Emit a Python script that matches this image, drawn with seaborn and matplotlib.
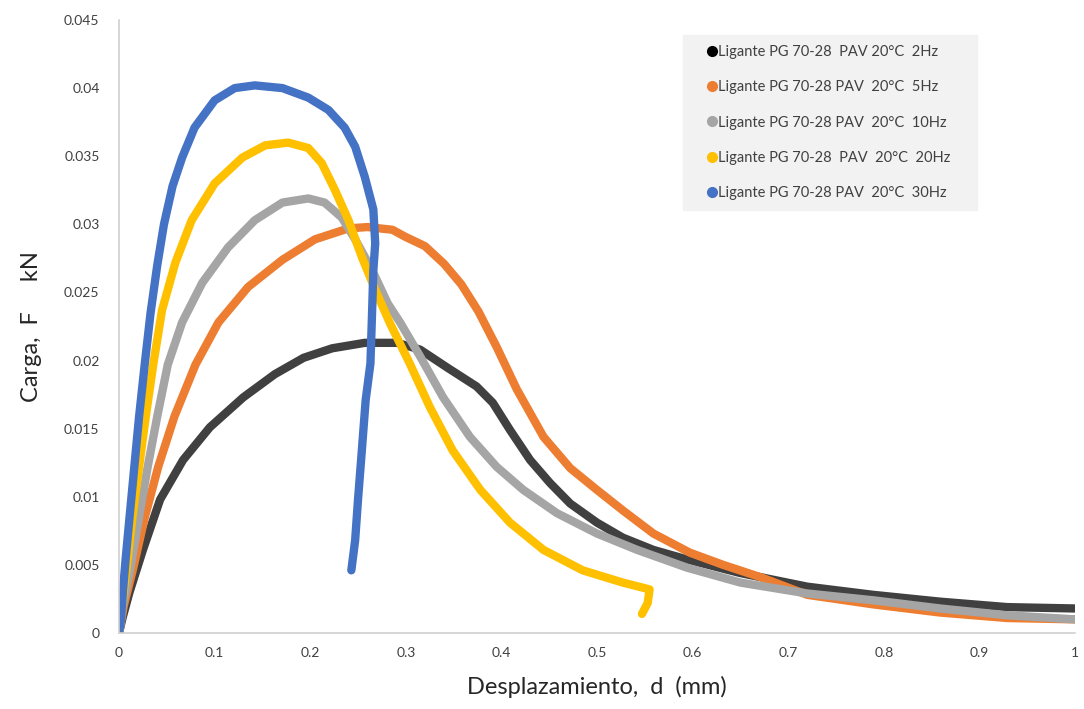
import matplotlib
matplotlib.use("Agg")
import matplotlib.pyplot as plt
from matplotlib.lines import Line2D
import seaborn as sns
import pandas as pd

# ---- data ----
x_2hz = [0, 0.004, 0.011, 0.025, 0.043, 0.067, 0.095, 0.130, 0.163, 0.193, 0.223, 0.257, 0.291,
         0.315, 0.343, 0.374, 0.391, 0.409, 0.430, 0.451, 0.472, 0.500, 0.527, 0.559, 0.594,
         0.650, 0.720, 0.789, 0.859, 0.929, 1.0]
y_2hz = [0, 0.0012, 0.0030, 0.0061, 0.0098, 0.0127, 0.0151, 0.0173, 0.0190, 0.0202, 0.0209, 0.0213,
         0.0213, 0.0208, 0.0195, 0.0181, 0.0169, 0.0149, 0.0127, 0.0110, 0.0095, 0.0081, 0.0070,
         0.0061, 0.0054, 0.0044, 0.0034, 0.0028, 0.0023, 0.0019, 0.0018]

x_5hz = [0, 0.005, 0.015, 0.027, 0.041, 0.058, 0.080, 0.104, 0.135, 0.171, 0.205, 0.240, 0.260,
         0.286, 0.299, 0.320, 0.340, 0.358, 0.376, 0.395, 0.416, 0.444, 0.472, 0.500, 0.527,
         0.559, 0.597, 0.632, 0.671, 0.720, 0.789, 0.859, 0.929, 1.0]
y_5hz = [0, 0.0020, 0.0048, 0.0085, 0.0122, 0.0159, 0.0197, 0.0228, 0.0254, 0.0274, 0.0289, 0.0297,
         0.0298, 0.0296, 0.0291, 0.0284, 0.0271, 0.0256, 0.0236, 0.0210, 0.0179, 0.0144, 0.0121,
         0.0105, 0.0090, 0.0073, 0.0059, 0.0050, 0.0041, 0.0028, 0.0021, 0.0015, 0.0011, 0.0010]

x_10hz = [0, 0.004, 0.012, 0.021, 0.030, 0.040, 0.051, 0.066, 0.087, 0.114, 0.142, 0.171, 0.198,
          0.215, 0.233, 0.247, 0.265, 0.281, 0.294, 0.315, 0.339, 0.367, 0.395, 0.423, 0.458,
          0.500, 0.542, 0.594, 0.650, 0.720, 0.789, 0.859, 0.929, 1.0]
y_10hz = [0, 0.0020, 0.0048, 0.0085, 0.0122, 0.0159, 0.0197, 0.0228, 0.0257, 0.0283, 0.0303, 0.0316,
          0.0319, 0.0316, 0.0305, 0.0289, 0.0266, 0.0242, 0.0228, 0.0203, 0.0173, 0.0144, 0.0122,
          0.0105, 0.0088, 0.0073, 0.0061, 0.0048, 0.0037, 0.0029, 0.0024, 0.0018, 0.0013, 0.0010]

x_20hz = [0, 0.003, 0.008, 0.014, 0.021, 0.028, 0.036, 0.045, 0.059, 0.076, 0.100, 0.129, 0.153,
          0.177, 0.198, 0.212, 0.226, 0.240, 0.254, 0.268, 0.283, 0.304, 0.325, 0.349, 0.378,
          0.409, 0.444, 0.485, 0.527, 0.555, 0.553, 0.547]
y_20hz = [0, 0.0020, 0.0048, 0.0085, 0.0122, 0.0159, 0.0198, 0.0237, 0.0272, 0.0303, 0.0330, 0.0349,
          0.0358, 0.0360, 0.0356, 0.0345, 0.0325, 0.0303, 0.0276, 0.0252, 0.0228, 0.0198, 0.0166,
          0.0134, 0.0105, 0.0081, 0.0061, 0.0046, 0.0037, 0.0032, 0.0022, 0.0014]

x_30hz = [0, 0.002, 0.004, 0.007, 0.011, 0.016, 0.021, 0.027, 0.033, 0.040, 0.047, 0.056, 0.066,
          0.079, 0.100, 0.121, 0.142, 0.171, 0.198, 0.219, 0.236, 0.247, 0.257, 0.266, 0.268,
          0.266, 0.265, 0.263, 0.258, 0.254, 0.250, 0.247, 0.243]
y_30hz = [0, 0.0010, 0.0030, 0.0055, 0.0085, 0.0122, 0.0159, 0.0198, 0.0235, 0.0270, 0.0300, 0.0328,
          0.0349, 0.0371, 0.0391, 0.0400, 0.0402, 0.0400, 0.0393, 0.0384, 0.0371, 0.0357, 0.0335,
          0.0311, 0.0286, 0.0266, 0.0242, 0.0198, 0.0171, 0.0134, 0.0098, 0.0068, 0.0046]

labels = ["Ligante PG 70-28  PAV 20°C  2Hz",
          "Ligante PG 70-28 PAV  20°C  5Hz",
          "Ligante PG 70-28 PAV  20°C  10Hz",
          "Ligante PG 70-28  PAV  20°C  20Hz",
          "Ligante PG 70-28 PAV  20°C  30Hz"]
colors = ["#404040", "#ED7D31", "#A5A5A5", "#FFC000", "#4472C4"]
legend_colors = ["#000000", "#ED7D31", "#A5A5A5", "#FFC000", "#4472C4"]

xticks = [0, 0.1, 0.2, 0.3, 0.4, 0.5, 0.6, 0.7, 0.8, 0.9, 1]
xticklabels = ["0", "0.1", "0.2", "0.3", "0.4", "0.5", "0.6", "0.7", "0.8", "0.9", "1"]
yticks = [0, 0.005, 0.01, 0.015, 0.02, 0.025, 0.03, 0.035, 0.04, 0.045]
yticklabels = ["0", "0.005", "0.01", "0.015", "0.02", "0.025", "0.03", "0.035", "0.04", "0.045"]

series = [(x_2hz, y_2hz), (x_5hz, y_5hz), (x_10hz, y_10hz), (x_20hz, y_20hz), (x_30hz, y_30hz)]

# ---- plot ----
sns.set_theme(style="white")
plt.rcParams["font.family"] = ["Lato", "DejaVu Sans"]

fig = plt.figure(figsize=(10.84, 7.09), dpi=100)
ax = fig.add_axes([0.1098, 0.1072, 0.8819, 0.8646])

for (xs, ys), lab, col in zip(series, labels, colors):
    df = pd.DataFrame({"x": xs, "y": ys})
    sns.lineplot(data=df, x="x", y="y", sort=False, estimator=None, color=col,
                 linewidth=6, ax=ax, legend=False, solid_capstyle="round",
                 solid_joinstyle="round")

ax.set_xlim(0, 1)
ax.set_ylim(0, 0.045)
ax.set_xticks(xticks)
ax.set_xticklabels(xticklabels)
ax.set_yticks(yticks)
ax.set_yticklabels(yticklabels)
ax.tick_params(axis="both", length=0, labelsize=10, labelcolor="#404040")
ax.tick_params(axis="y", pad=14)
ax.tick_params(axis="x", pad=10)

for side in ["top", "right"]:
    ax.spines[side].set_visible(False)
for side in ["left", "bottom"]:
    ax.spines[side].set_color("#d0d0d0")
    ax.spines[side].set_linewidth(1.2)

ax.set_xlabel("Desplazamiento,  d  (mm)", fontsize=17, color="#262626", labelpad=12)
ax.set_ylabel("Carga,  F     kN", fontsize=17, color="#262626", labelpad=16)

handles = [Line2D([0], [0], marker="o", linestyle="none", markersize=7,
                  markerfacecolor=c, markeredgecolor=c) for c in legend_colors]
leg = ax.legend(handles, labels, loc="upper left", bbox_to_anchor=(0.590, 0.70, 0.3075, 0.2755),
                mode="expand", frameon=True, fancybox=False, framealpha=1,
                facecolor="#f2f2f2", edgecolor="#f2f2f2", fontsize=10.5,
                labelspacing=1.45, handletextpad=-0.9, borderpad=0.7,
                handlelength=2.6, borderaxespad=0)
for t in leg.get_texts():
    t.set_color("#404040")

fig.savefig("out.png", dpi=100)
